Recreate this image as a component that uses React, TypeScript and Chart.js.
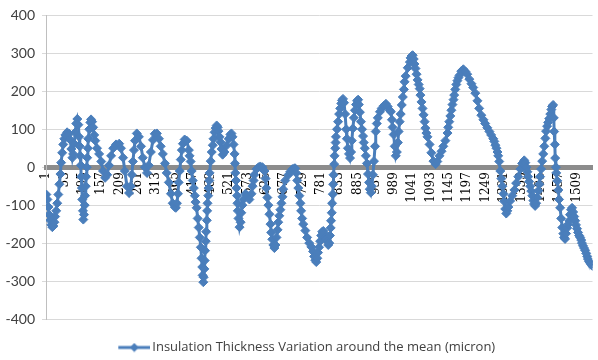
import React, { useEffect, useRef } from 'react';
import { Chart, registerables } from 'chart.js';

Chart.register(...registerables);

const seriesName = 'Insulation Thickness Variation around the mean (micron)';

const xTickLabels = [
  1, 53, 105, 157, 209, 261, 313, 365, 417, 469, 521, 573, 625, 677, 729,
  781, 833, 885, 937, 989, 1041, 1093, 1145, 1197, 1249, 1301, 1353, 1405, 1457, 1509,
];

const yTickLabels = ['400', '300', '200', '100', '0', '-100', '-200', '-300', '-400'];

const sampleIndex = [
  1, 4, 7, 9, 12, 15, 18, 21, 24, 26,
  29, 32, 35, 38, 41, 43, 46, 49, 52, 55,
  60, 66, 69, 72, 75, 77, 80, 83, 86, 89,
  92, 94, 96, 97, 99, 100, 102, 103, 105, 106,
  108, 110, 111, 113, 114, 116, 117, 119, 120, 123,
  126, 128, 131, 134, 137, 140, 145, 151, 157, 162,
  168, 174, 179, 185, 191, 199, 208, 213, 219, 224,
  230, 236, 241, 244, 247, 250, 253, 258, 264, 270,
  275, 281, 287, 292, 298, 304, 309, 315, 321, 326,
  332, 338, 343, 349, 355, 360, 366, 369, 372, 375,
  377, 380, 383, 386, 389, 394, 400, 406, 408, 411,
  414, 417, 420, 423, 425, 428, 431, 434, 437, 440,
  442, 444, 445, 447, 448, 450, 451, 452, 454, 455,
  457, 458, 459, 461, 462, 464, 465, 468, 471, 474,
  476, 479, 482, 485, 488, 490, 493, 496, 499, 502,
  507, 513, 519, 524, 527, 530, 533, 536, 537, 538,
  540, 541, 543, 544, 545, 547, 550, 553, 555, 558,
  561, 567, 572, 578, 584, 587, 590, 592, 598, 604,
  609, 615, 621, 624, 626, 629, 632, 635, 638, 640,
  643, 646, 649, 652, 655, 658, 660, 663, 666, 669,
  672, 674, 680, 689, 694, 700, 706, 708, 711, 714,
  717, 720, 723, 725, 728, 731, 737, 742, 748, 754,
  759, 762, 765, 768, 771, 773, 776, 779, 782, 785,
  788, 790, 793, 796, 799, 802, 805, 807, 809, 810,
  812, 813, 815, 816, 817, 819, 820, 822, 823, 824,
  827, 830, 833, 836, 839, 841, 844, 847, 850, 853,
  855, 858, 861, 864, 867, 869, 872, 875, 878, 881,
  884, 887, 889, 892, 895, 898, 901, 903, 906, 909,
  912, 915, 918, 920, 923, 926, 929, 932, 935, 937,
  940, 943, 949, 954, 960, 966, 971, 977, 980, 983,
  985, 988, 991, 994, 997, 1000, 1002, 1005, 1008, 1011,
  1014, 1017, 1019, 1022, 1028, 1034, 1036, 1039, 1042, 1045,
  1047, 1050, 1053, 1056, 1059, 1062, 1064, 1067, 1070, 1073,
  1076, 1078, 1081, 1084, 1090, 1095, 1101, 1107, 1112, 1118,
  1124, 1129, 1135, 1141, 1143, 1146, 1149, 1152, 1155, 1158,
  1160, 1163, 1166, 1169, 1172, 1175, 1180, 1186, 1192, 1197,
  1203, 1209, 1214, 1220, 1226, 1231, 1237, 1243, 1248, 1254,
  1260, 1265, 1271, 1274, 1277, 1280, 1283, 1285, 1288, 1291,
  1294, 1297, 1300, 1302, 1305, 1308, 1311, 1314, 1319, 1325,
  1331, 1336, 1342, 1348, 1353, 1359, 1362, 1365, 1368, 1370,
  1373, 1376, 1379, 1382, 1385, 1387, 1390, 1393, 1396, 1399,
  1402, 1404, 1407, 1410, 1413, 1416, 1419, 1421, 1424, 1427,
  1430, 1433, 1436, 1438, 1441, 1443, 1444, 1446, 1447, 1449,
  1450, 1453, 1456, 1458, 1461, 1464, 1467, 1470, 1472, 1475,
  1478, 1481, 1484, 1487, 1489, 1492, 1495, 1498, 1501, 1504,
  1506, 1509, 1512, 1515, 1518, 1521, 1523, 1526, 1529, 1532,
  1535, 1538, 1540, 1543, 1546, 1549, 1552,
];

const variation = [
  -72, -85, -105, -125, -140, -152, -158, -155, -145, -130,
  -115, -95, -72, -45, -18, 12, 38, 60, 75, 85,
  92, 88, 72, 48, 25, 35, 62, 92, 115, 127,
  112, 80, 55, 30, 5, -25, -55, -85, -115, -138,
  -125, -100, -75, -50, -25, 0, 25, 50, 75, 100,
  118, 126, 120, 105, 85, 70, 50, 35, 15, -10,
  -28, -20, 5, 30, 50, 60, 62, 50, 25, -10,
  -50, -68, -50, -20, 15, 45, 70, 89, 80, 55,
  25, 0, -15, 5, 40, 72, 88, 89, 75, 55,
  35, 10, -15, -40, -70, -95, -105, -107, -95, -70,
  -40, -10, 20, 45, 62, 73, 70, 45, 30, 15,
  -10, -35, -55, -75, -92, -107, -135, -159, -185, -211,
  -240, -263, -285, -303, -290, -268, -246, -220, -195, -170,
  -140, -115, -95, -75, -55, -35, -15, 16, 40, 58,
  75, 92, 103, 110, 105, 95, 80, 66, 48, 33,
  40, 57, 75, 86, 89, 80, 60, 35, 10, -15,
  -35, -55, -75, -95, -115, -135, -158, -145, -120, -100,
  -85, -70, -75, -85, -70, -50, -35, -20, -5, 0,
  2, 0, -10, -30, -55, -80, -100, -124, -150, -172,
  -190, -205, -213, -205, -185, -165, -145, -128, -112, -95,
  -78, -58, -35, -20, -12, -5, -3, -3, -15, -35,
  -55, -75, -95, -115, -135, -150, -167, -185, -200, -210,
  -222, -235, -245, -250, -240, -225, -211, -195, -180, -170,
  -168, -175, -185, -190, -195, -205, -200, -180, -160, -141,
  -120, -95, -71, -45, -20, 8, 30, 50, 65, 80,
  100, 120, 140, 155, 168, 176, 180, 170, 140, 100,
  75, 50, 35, 24, 40, 70, 102, 130, 150, 165,
  175, 178, 165, 145, 120, 100, 82, 65, 50, 30,
  10, -18, -40, -58, -67, -50, -20, 16, 55, 94,
  115, 130, 146, 155, 162, 167, 160, 150, 146, 125,
  105, 86, 55, 30, 40, 65, 94, 120, 140, 164,
  185, 205, 225, 240, 262, 277, 288, 293, 295, 285,
  272, 260, 245, 230, 218, 207, 190, 172, 155, 138,
  120, 103, 90, 80, 60, 38, 16, 8, 15, 30,
  42, 55, 70, 90, 105, 120, 135, 150, 165, 178,
  190, 205, 218, 228, 236, 242, 253, 258, 252, 245,
  232, 220, 210, 195, 175, 155, 137, 125, 115, 104,
  94, 85, 75, 68, 58, 50, 40, 30, 15, -10,
  -30, -50, -70, -90, -110, -122, -115, -105, -89, -75,
  -60, -42, -25, -5, 10, 18, 12, 0, -12, -25,
  -38, -50, -63, -75, -88, -97, -102, -95, -80, -62,
  -45, -25, -5, 16, 35, 55, 76, 95, 108, 118,
  128, 140, 152, 160, 164, 130, 94, 60, 24, 0,
  -15, -36, -60, -85, -107, -135, -159, -175, -185, -189,
  -175, -160, -150, -141, -125, -112, -107, -118, -130, -141,
  -152, -162, -172, -180, -185, -192, -200, -207, -213, -219,
  -227, -235, -242, -248, -252, -256, -260,
];

const BLUE = '#4a7ebb';

export default function App() {
  const canvasRef = useRef<HTMLCanvasElement>(null);

  useEffect(() => {
    // legend symbol: a short line with a diamond, drawn in the right part of a wider transparent image
    const icon = document.createElement('canvas');
    icon.width = 55;
    icon.height = 10;
    const g = icon.getContext('2d')!;
    g.strokeStyle = BLUE;
    g.lineWidth = 3;
    g.beginPath();
    g.moveTo(23, 5);
    g.lineTo(55, 5);
    g.stroke();
    g.fillStyle = BLUE;
    g.beginPath();
    g.moveTo(39, 0.5);
    g.lineTo(43.5, 5);
    g.lineTo(39, 9.5);
    g.lineTo(34.5, 5);
    g.closePath();
    g.fill();

    const data = sampleIndex.map((x, i) => ({ x, y: variation[i] }));

    const chart = new Chart(canvasRef.current!, {
      type: 'line',
      data: {
        datasets: [
          {
            label: seriesName,
            data,
            borderColor: BLUE,
            backgroundColor: BLUE,
            borderWidth: 3,
            pointStyle: 'rectRot',
            pointRadius: 4.5,
            pointBorderWidth: 1,
            pointBackgroundColor: BLUE,
            pointBorderColor: BLUE,
            tension: 0,
          },
        ],
      },
      options: {
        responsive: false,
        animation: false,
        layout: { padding: { left: 0, right: 3, top: 13, bottom: -4 } },
        plugins: {
          tooltip: { enabled: false },
          legend: {
            position: 'bottom',
            labels: {
              usePointStyle: true,
              pointStyle: icon as any,
              pointStyleWidth: 46,
              padding: 22,
              color: '#404040',
              font: { family: 'Open Sans', size: 13 },
            },
          },
        },
        scales: {
          x: {
            type: 'linear',
            min: 0,
            max: 1553,
            position: { y: 0 } as any,
            afterBuildTicks: (scale: any) => {
              scale.ticks = xTickLabels.map((v) => ({ value: v }));
            },
            grid: { display: false, drawTicks: false },
            border: { display: true, color: '#8c8c8c', width: 5 },
            ticks: {
              autoSkip: false,
              minRotation: 90,
              maxRotation: 90,
              padding: 5,
              color: '#000000',
              font: { family: 'DejaVu Serif', size: 12 },
              callback: (v: any) => String(v),
            },
          },
          y: {
            type: 'linear',
            min: -400,
            max: 400,
            afterFit: (scale: any) => {
              scale.width = 46;
            },
            grid: { color: '#d9d9d9', lineWidth: 1, tickLength: 4 },
            border: { display: true, color: '#bfbfbf', width: 1 },
            ticks: {
              stepSize: 100,
              padding: 7,
              color: '#404040',
              font: { family: 'Lato', size: 14 },
              callback: (v: any) => yTickLabels[yTickLabels.length - 1 - (Number(v) + 400) / 100] ?? String(v),
            },
          },
        },
      },
    });
    return () => chart.destroy();
  }, []);

  return (
    <div style={{ position: 'fixed', left: 0, top: 0, width: 598, height: 360, background: '#fff' }}>
      <canvas ref={canvasRef} width={598} height={360} />
    </div>
  );
}
